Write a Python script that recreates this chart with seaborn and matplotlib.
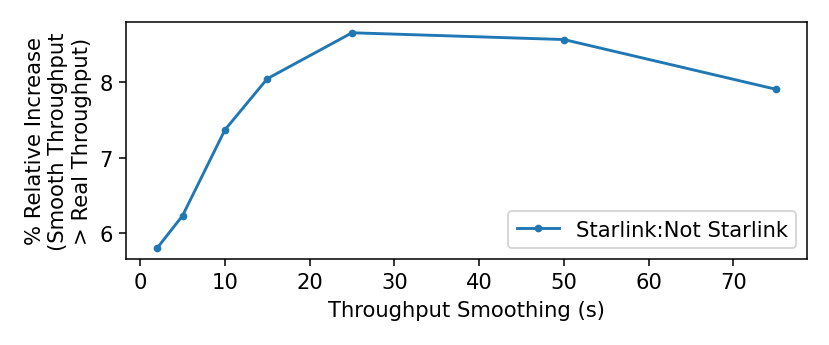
import numpy as np
import pandas as pd
import matplotlib
matplotlib.use('Agg')
import matplotlib.pyplot as plt
import seaborn as sns

# smoothing window (s) and relative increase (%)
smoothing = [2, 5, 10, 15, 25, 50, 75]
rel_increase = [5.80, 6.23, 7.37, 8.05, 8.66, 8.57, 7.91]
series_name = 'Starlink:Not Starlink'

data = pd.DataFrame({'smoothing': smoothing,
                     'increase': rel_increase,
                     'label': series_name})

fig, ax = plt.subplots(figsize=(6, 2.5), dpi=138.33)
fig.subplots_adjust(left=0.152, right=0.972, top=0.934, bottom=0.249)

sns.lineplot(data=data, x='smoothing', y='increase', hue='label',
             marker='o', markersize=4, markeredgewidth=0, linewidth=1.5,
             palette=['#1f77b4'], ax=ax)

ax.set_xlabel('Throughput Smoothing (s)', fontsize=11)
ax.set_ylabel('% Relative Increase\n(Smooth Throughput\n> Real Throughput)', fontsize=11)
ax.set_xticks([0, 10, 20, 30, 40, 50, 60, 70])
ax.set_yticks([6, 7, 8])
ax.tick_params(labelsize=11)
ax.legend(loc='lower right', fontsize=11)

plt.savefig('out.png', dpi=138.33)
